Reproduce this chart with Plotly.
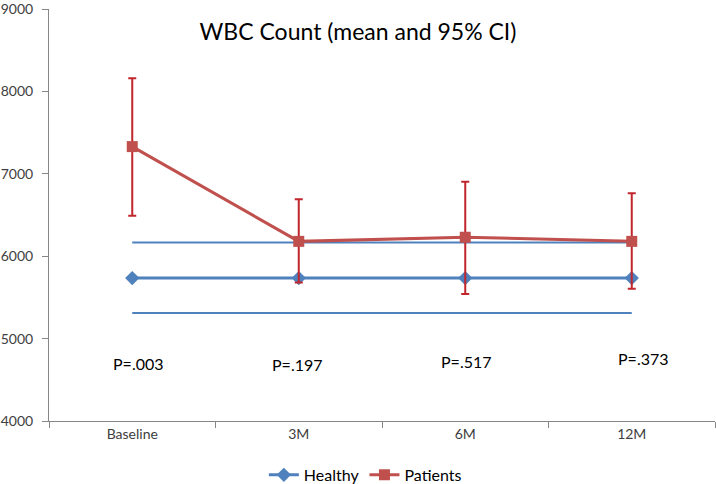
import plotly.graph_objects as go

categories = ["Baseline", "3M", "6M", "12M"]
healthy_mean = [5735, 5735, 5735, 5735]
healthy_ci_upper = [6165, 6165, 6165, 6165]
healthy_ci_lower = [5310, 5310, 5310, 5310]
patients_mean = [7330, 6180, 6230, 6180]
patients_upper = [8160, 6690, 6905, 6765]
patients_lower = [6490, 5680, 5540, 5605]
p_labels = ["P=.003", "P=.197", "P=.517", "P=.373"]
p_y = [4700, 4690, 4725, 4760]
y_ticks = [4000, 5000, 6000, 7000, 8000, 9000]

# label pixel nudges (style only)
p_xshift = [6, -1, 1, 12]

BLUE = "#4F81BD"
RED = "#C0504D"
ERR = "#C0262C"
FONT = "Lato"

fig = go.Figure()

fig.add_trace(go.Scatter(x=categories, y=healthy_ci_upper, mode="lines",
                         line=dict(color=BLUE, width=2), showlegend=False, hoverinfo="skip"))
fig.add_trace(go.Scatter(x=categories, y=healthy_ci_lower, mode="lines",
                         line=dict(color=BLUE, width=2), showlegend=False, hoverinfo="skip"))

fig.add_trace(go.Scatter(x=categories, y=healthy_mean, mode="lines+markers", name="Healthy",
                         line=dict(color=BLUE, width=3),
                         marker=dict(symbol="diamond", size=11, color=BLUE)))

err_plus = [u - m for u, m in zip(patients_upper, patients_mean)]
err_minus = [m - l for m, l in zip(patients_mean, patients_lower)]
fig.add_trace(go.Scatter(x=categories, y=patients_mean, mode="lines+markers", name="Patients",
                         line=dict(color=RED, width=3),
                         marker=dict(symbol="square", size=11, color=RED),
                         error_y=dict(type="data", symmetric=False, array=err_plus,
                                      arrayminus=err_minus, color=ERR, thickness=2, width=4)))

for c, t, y, dx in zip(categories, p_labels, p_y, p_xshift):
    fig.add_annotation(x=c, y=y, text=t, showarrow=False, xshift=dx,
                       font=dict(family=FONT, size=16, color="#000000"))

fig.update_layout(
    width=716, height=484,
    margin=dict(l=49, r=1, t=9, b=63, autoexpand=False),
    paper_bgcolor="white", plot_bgcolor="white",
    font=dict(family=FONT, color="#404040"),
    title=dict(text="WBC Count (mean and 95% CI)", x=0.5, xanchor="center",
               y=0.935, yanchor="middle", font=dict(family=FONT, size=23, color="#000000")),
    legend=dict(orientation="h", x=0.475, xanchor="center", y=-0.131, yanchor="middle",
                font=dict(family=FONT, size=16, color="#000000"), itemwidth=30),
    showlegend=True,
)
fig.update_xaxes(range=[-0.5, 3.5], showline=True, linecolor="#868686", linewidth=1,
                 ticks="outside", tickson="boundaries", ticklen=6, tickcolor="#868686",
                 showgrid=False, automargin=False,
                 tickfont=dict(family=FONT, size=14, color="#404040"))
fig.update_yaxes(range=[4000, 9000], tickvals=y_ticks, showline=True, linecolor="#868686",
                 linewidth=1, ticks="outside", ticklen=6, tickcolor="#868686",
                 showgrid=False, zeroline=False, automargin=False,
                 ticklabeloverflow="allow", ticklabelstandoff=6,
                 tickfont=dict(family=FONT, size=14, color="#404040"))

fig.write_html("out.html", config={"displayModeBar": False},
               post_script="document.body.style.margin='0';document.body.style.padding='0';")
